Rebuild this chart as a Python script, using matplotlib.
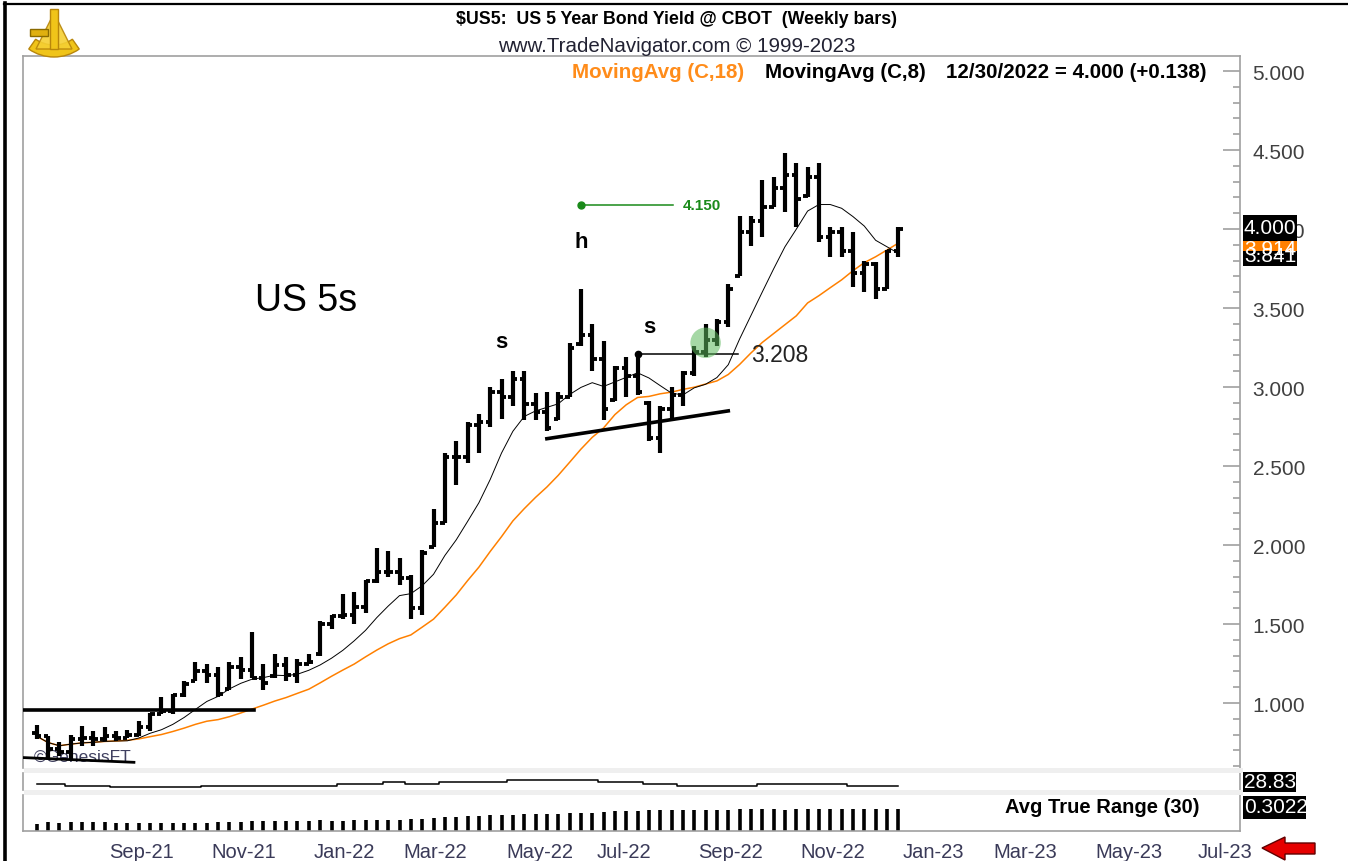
import numpy as np
import pandas as pd
import matplotlib
matplotlib.use('Agg')
import matplotlib.pyplot as plt
import matplotlib.dates as mdates
from matplotlib.transforms import ScaledTranslation
from matplotlib.patches import Rectangle, Polygon, Wedge

plt.rcParams['font.family'] = ['Liberation Sans', 'DejaVu Sans']

# ---------------- data ----------------
dates = pd.date_range('2021-07-16', '2022-12-30', freq='W-FRI')
opens = [0.81, 0.79, 0.71, 0.69, 0.77, 0.78, 0.77, 0.79, 0.78, 0.80,
         0.85, 0.93, 0.95, 1.05, 1.14, 1.20, 1.18, 1.09, 1.23, 1.21,
         1.16, 1.17, 1.24, 1.18, 1.25, 1.31, 1.50, 1.55, 1.56, 1.61,
         1.77, 1.83, 1.83, 1.79, 1.60, 1.99, 2.14, 2.56, 2.56, 2.76,
         2.78, 2.97, 2.94, 3.05, 2.89, 2.84, 2.80, 2.94, 3.27, 3.33,
         3.18, 2.92, 3.12, 3.07, 2.90, 2.68, 2.86, 2.95, 3.09, 3.22,
         3.30, 3.41, 3.70, 3.98, 4.05, 4.14, 4.26, 4.34, 4.21, 4.33,
         3.95, 3.98, 3.86, 3.72, 3.78, 3.62, 3.862]
highs = [0.86, 0.79, 0.755, 0.80, 0.855, 0.82, 0.85, 0.82, 0.83, 0.885,
         0.94, 1.04, 1.06, 1.14, 1.26, 1.245, 1.23, 1.26, 1.29, 1.45,
         1.245, 1.31, 1.29, 1.28, 1.31, 1.52, 1.56, 1.69, 1.70, 1.78,
         1.98, 1.96, 1.92, 1.81, 1.97, 2.23, 2.58, 2.66, 2.78, 2.83,
         3.00, 3.05, 3.10, 3.10, 2.96, 2.97, 2.97, 3.28, 3.62, 3.40,
         3.29, 3.13, 3.19, 3.21, 2.91, 2.88, 3.00, 3.10, 3.26, 3.40,
         3.43, 3.65, 4.08, 4.08, 4.31, 4.33, 4.48, 4.42, 4.39, 4.42,
         4.01, 4.01, 3.98, 3.80, 3.79, 3.87, 4.01]
lows = [0.77, 0.65, 0.665, 0.64, 0.73, 0.73, 0.76, 0.76, 0.78, 0.79,
        0.82, 0.93, 0.93, 1.04, 1.14, 1.13, 1.04, 1.08, 1.15, 1.16,
        1.08, 1.16, 1.14, 1.13, 1.245, 1.30, 1.47, 1.53, 1.50, 1.57,
        1.76, 1.80, 1.75, 1.53, 1.56, 1.99, 2.14, 2.38, 2.52, 2.58,
        2.75, 2.80, 2.88, 2.79, 2.79, 2.72, 2.79, 2.94, 3.26, 3.10,
        2.79, 2.91, 2.94, 2.95, 2.66, 2.58, 2.79, 2.88, 3.07, 3.19,
        3.26, 3.38, 3.70, 3.89, 3.95, 4.14, 4.11, 4.01, 4.20, 3.92,
        3.82, 3.82, 3.63, 3.60, 3.56, 3.62, 3.82]
closes = [0.79, 0.71, 0.69, 0.77, 0.78, 0.77, 0.79, 0.78, 0.80, 0.85,
          0.93, 0.95, 1.05, 1.12, 1.20, 1.18, 1.06, 1.23, 1.21, 1.16,
          1.13, 1.24, 1.18, 1.25, 1.26, 1.50, 1.55, 1.56, 1.61, 1.77,
          1.83, 1.83, 1.79, 1.60, 1.95, 2.14, 2.56, 2.56, 2.76, 2.78,
          2.97, 2.94, 3.05, 2.89, 2.84, 2.74, 2.94, 3.25, 3.33, 3.18,
          2.86, 3.12, 3.07, 2.97, 2.68, 2.86, 2.95, 3.09, 3.22, 3.30,
          3.41, 3.62, 3.98, 4.05, 4.14, 4.26, 4.34, 4.19, 4.33, 3.95,
          3.98, 3.86, 3.72, 3.78, 3.62, 3.862, 4.000]
# upper sub-panel indicator (last value 28.83)
indicator = [29.9, 29.9, 29.9, 28.8, 28.8, 28.8, 28.8, 27.9, 27.9, 27.9,
             27.9, 27.9, 27.9, 27.9, 27.9, 28.8, 28.8, 28.8, 28.8, 28.8,
             28.8, 28.8, 28.8, 28.8, 28.8, 28.8, 28.8, 29.9, 29.9, 29.9,
             29.9, 30.9, 30.9, 29.9, 29.9, 29.9, 30.9, 30.9, 30.9, 30.9,
             30.9, 30.9, 32.4, 32.4, 32.4, 32.4, 32.4, 32.4, 32.4, 32.4,
             30.9, 30.9, 30.9, 30.9, 29.9, 29.9, 29.9, 28.8, 28.8, 28.8,
             28.8, 28.8, 28.8, 28.8, 29.9, 29.9, 29.9, 29.9, 29.9, 29.9,
             29.9, 29.9, 28.83, 28.83, 28.83, 28.83, 28.83]

month_ticks = ['2021-09-03', '2021-11-05', '2022-01-07', '2022-03-04', '2022-05-06',
               '2022-07-01', '2022-09-02', '2022-11-04', '2023-01-06', '2023-03-03',
               '2023-05-05', '2023-07-07']
month_labels = ['Sep-21', 'Nov-21', 'Jan-22', 'Mar-22', 'May-22', 'Jul-22',
                'Sep-22', 'Nov-22', 'Jan-23', 'Mar-23', 'May-23', 'Jul-23']

last_close_text = '4.000'
ma18_text = '3.914'
ma8_text = '3.841'
ind_text = '28.83'
atr_text = '0.3022'

# annotations
target_level = 4.150
target_span = ('2022-06-17', '2022-08-13')
neck_level = 3.208
neck_span = ('2022-07-22', '2022-09-22')
trend_pts = (('2022-05-27', 2.673), ('2022-09-16', 2.849))
box_top = (0.956, '2021-11-27')
box_bottom = ((0.655, 0.625), '2021-09-14')
circle_pt = ('2022-09-02', 3.28)
letters = [('s', '2022-04-29', 3.29), ('h', '2022-06-17', 3.92), ('s', '2022-07-29', 3.38)]

# ---------------- derived ----------------
x = mdates.date2num(dates)
cl = pd.Series(closes)
ma8 = cl.rolling(8, min_periods=1).mean()
ma18 = cl.rolling(18, min_periods=1).mean()
prev_c = cl.shift(1).fillna(cl.iloc[0])
tr = np.maximum(np.array(highs), prev_c.values) - np.minimum(np.array(lows), prev_c.values)
atr = pd.Series(tr).rolling(30, min_periods=1).mean()

# ---------------- figure ----------------
W, H = 1348, 862
fig = plt.figure(figsize=(W / 100, H / 100), dpi=100)

def fa(l, t, r, b):
    return [l / W, (H - b) / H, (r - l) / W, (b - t) / H]

x0 = mdates.date2num(pd.Timestamp('2021-07-07 12:00'))
x1 = mdates.date2num(pd.Timestamp('2023-07-29'))
gray = '#a0a0a0'

ax = fig.add_axes(fa(23, 57, 1240, 769))
ax2 = fig.add_axes(fa(23, 774, 1240, 791))
ax3 = fig.add_axes(fa(23, 796, 1240, 832))
for a in (ax, ax2, ax3):
    a.set_xlim(x0, x1)
    for s in a.spines.values():
        s.set_color(gray)
        s.set_linewidth(1.2)
    a.tick_params(axis='x', length=0, labelbottom=False)

ax.set_ylim(0.589, 5.095)
ax.spines['bottom'].set_visible(False)
ax.yaxis.tick_right()
ax.set_yticks(np.arange(1.0, 5.01, 0.5))
ax.set_yticklabels([f'{v:.3f}' for v in np.arange(1.0, 5.01, 0.5)])
ax.set_yticks(np.arange(0.6, 5.06, 0.1), minor=True)
ax.tick_params(axis='y', which='major', direction='in', length=12, width=1.2, color=gray,
               labelsize=15, labelcolor='#404040', pad=9)
ax.tick_params(axis='y', which='minor', direction='in', length=5, width=1.2, color=gray)

# OHLC bars
tick = 2.8
ax.vlines(x, lows, highs, color='black', linewidth=3.0, zorder=3)
ax.hlines(opens, x - tick, x, color='black', linewidth=2.8, zorder=3)
ax.hlines(closes, x, x + tick, color='black', linewidth=2.8, zorder=3)
ax.plot(x, ma18, color='#ff8000', linewidth=1.1, zorder=2)
ax.plot(x, ma8, color='black', linewidth=0.7, zorder=2)

# annotations in data coords
d = lambda s: mdates.date2num(pd.Timestamp(s))
ax.plot([d(target_span[0]), d(target_span[1])], [target_level] * 2, color='#1a8a1a', lw=1.1)
ax.plot([d(target_span[0])], [target_level], 'o', color='#1a8a1a', ms=5)
ax.text(d(target_span[1]) + 6, target_level, f'{target_level:.3f}', color='#1a8a1a',
        fontsize=11, fontweight='bold', va='center', ha='left')
ax.plot([d(neck_span[0]), d(neck_span[1])], [neck_level] * 2, color='black', lw=1.1)
ax.plot([d(neck_span[0])], [neck_level], 'o', color='black', ms=4.5)
ax.text(d(neck_span[1]) + 8, neck_level, f'{neck_level:.3f}', color='#222222',
        fontsize=16.5, va='center', ha='left')
ax.plot([d(trend_pts[0][0]), d(trend_pts[1][0])], [trend_pts[0][1], trend_pts[1][1]],
        color='black', lw=2.6, zorder=4)
ax.plot([x0, d(box_top[1])], [box_top[0]] * 2, color='black', lw=2.6, zorder=4)
ax.plot([x0, d(box_bottom[1])], list(box_bottom[0]), color='black', lw=2.0, zorder=4)
ax.scatter([d(circle_pt[0])], [circle_pt[1]], s=480, color='#5cb85c', alpha=0.55,
           edgecolors='none', zorder=5)
for ch, ds, v in letters:
    ax.text(d(ds), v, ch, fontsize=16, fontweight='bold', ha='center', va='center')
ax.text(d('2021-11-28'), 3.55, 'US 5s', fontsize=27, ha='left', va='center')
ax.text(d('2021-07-14'), 0.66, '©GenesisFT', fontsize=12.5, color='#404060',
        ha='left', va='center', zorder=2)

# indicator panel
ax2.set_ylim(26.25, 36.45)
ax2.spines['top'].set_visible(False)
ax2.spines['bottom'].set_visible(False)
ax2.set_yticks([])
ax2.plot(x, indicator, color='black', linewidth=1.1, drawstyle='steps-mid')

# ATR panel
ax3.set_ylim(0, 0.46)
ax3.spines['top'].set_visible(False)
ax3.set_yticks([])
ax3.vlines(x, 0, atr, color='black', linewidth=2.6)
ax3.set_xticks([d(t) for t in month_ticks])
ax3.set_xticklabels(month_labels)
ax3.tick_params(axis='x', length=0, labelbottom=True, labelsize=14.5,
                labelcolor='#3a3a58', pad=8)
off = ScaledTranslation(-7 / 100, 0, fig.dpi_scale_trans)
for lbl in ax3.get_xticklabels():
    lbl.set_ha('left')
    lbl.set_transform(lbl.get_transform() + off)
ax3.text(0.807, 0.68, 'Avg True Range (30)', transform=ax3.transAxes, fontsize=14.5,
         fontweight='bold', ha='left', va='center')

# ---------------- overlay (figure pixel coords) ----------------
ov = fig.add_axes([0, 0, 1, 1], zorder=10)
ov.set_xlim(0, W)
ov.set_ylim(H, 0)
ov.axis('off')
ov.patch.set_alpha(0)

# frame
ov.plot([5, 5], [4, H], color='black', lw=2.6)
ov.plot([4, W], [5, 5], color='black', lw=1.6)

# gray separators
for yb in (769, 791):
    ov.add_patch(Rectangle((24, yb), 1219, 5, color='#efefef', lw=0))

# titles
ov.text(676, 20, '$US5:  US 5 Year Bond Yield @ CBOT  (Weekly bars)', fontsize=12.8,
        fontweight='bold', ha='center', va='center')
ov.text(677, 46, 'www.TradeNavigator.com © 1999-2023', fontsize=14.8, ha='center',
        va='center', color='#222233')
ov.text(572, 72, 'MovingAvg (C,18)', fontsize=14.8, fontweight='bold', color='#ff8c1a',
        ha='left', va='center')
ov.text(765, 72, 'MovingAvg (C,8)', fontsize=14.8, fontweight='bold', color='black',
        ha='left', va='center')
ov.text(946, 72, '12/30/2022 = 4.000 (+0.138)', fontsize=14.8, fontweight='bold',
        color='black', ha='left', va='center')

# right value boxes
ov.add_patch(Rectangle((1243, 216), 54, 51, color='black', lw=0))
brect = Rectangle((1243, 252), 54, 15, color='black', lw=0)
ov.add_patch(brect)
t3 = ov.text(1244, 257, ma8_text, fontsize=15, color='white', ha='left', va='center')
t3.set_clip_path(brect)
orect = Rectangle((1243, 242), 54, 10, color='#ff8000', lw=0)
ov.add_patch(orect)
t2 = ov.text(1244, 250, ma18_text, fontsize=15, color='white', ha='left', va='center')
t2.set_clip_path(orect)
ov.text(1244, 229, last_close_text, fontsize=15, color='white', ha='left', va='center')

ov.add_patch(Rectangle((1243, 773), 53, 20, color='black', lw=0))
ov.text(1244, 783, ind_text, fontsize=15, color='white', ha='left', va='center')
ov.add_patch(Rectangle((1243, 797), 63, 23, color='black', lw=0))
ov.text(1244, 808, atr_text, fontsize=15, color='white', ha='left', va='center')

# red arrow
ov.add_patch(Polygon([[1262, 849], [1285, 838], [1285, 844], [1315, 844], [1315, 855],
                      [1285, 855], [1285, 861]], closed=True, facecolor='#e60000',
                     edgecolor='#600000', lw=1))

# logo (sextant)
ov.add_patch(Wedge((54, 14), 44, 55, 125, width=12, facecolor='#f0c419', edgecolor='#b8860b', lw=1))
ov.add_patch(Polygon([[54, 14], [36, 50], [72, 50]], closed=True, facecolor='#f5d033',
                     edgecolor='#b8860b', lw=1, alpha=0.9))
ov.add_patch(Rectangle((30, 30), 18, 7, facecolor='#e0b010', edgecolor='#8a6a00', lw=1))
ov.add_patch(Rectangle((50, 10), 8, 40, facecolor='#f0c419', edgecolor='#b8860b', lw=1))

fig.savefig('out.png', dpi=100)
